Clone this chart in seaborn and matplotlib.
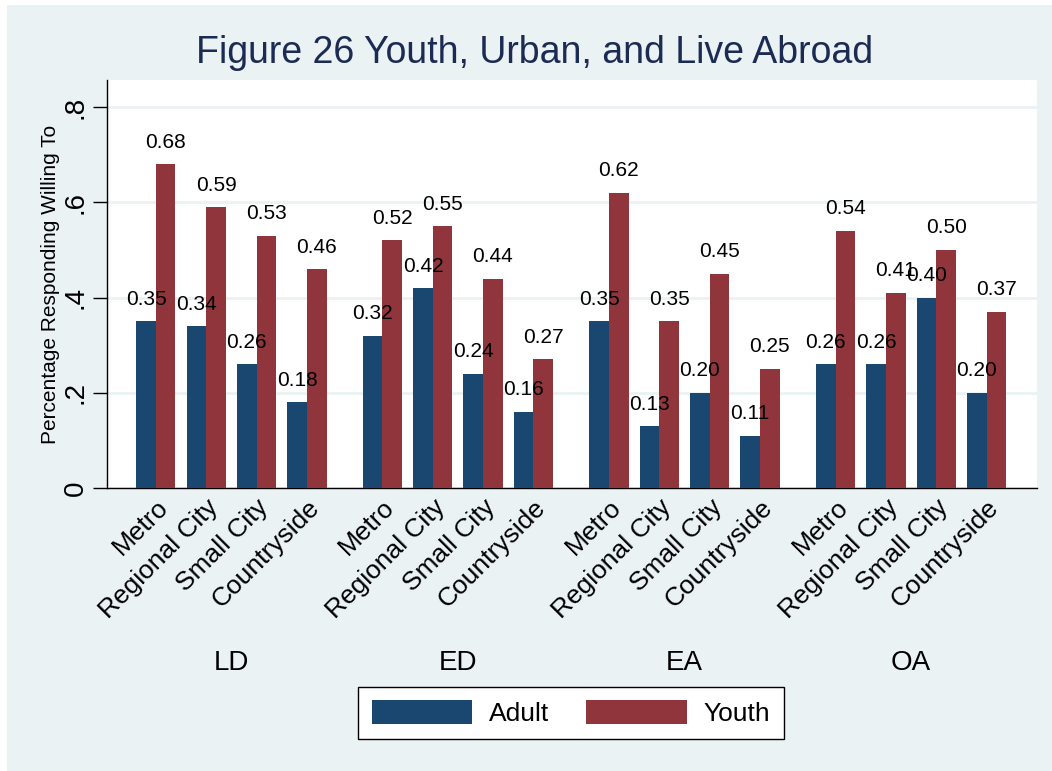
import numpy as np
import pandas as pd
import matplotlib
matplotlib.use("Agg")
import matplotlib.pyplot as plt
import matplotlib.transforms as mtransforms
from matplotlib.patches import Patch, Rectangle
import seaborn as sns

# Data
regions = ["LD", "ED", "EA", "OA"]
places = ["Metro", "Regional City", "Small City", "Countryside"]
adult = [0.35, 0.34, 0.26, 0.18,
         0.32, 0.42, 0.24, 0.16,
         0.35, 0.13, 0.20, 0.11,
         0.26, 0.26, 0.40, 0.20]
youth = [0.68, 0.59, 0.53, 0.46,
         0.52, 0.55, 0.44, 0.27,
         0.62, 0.35, 0.45, 0.25,
         0.54, 0.41, 0.50, 0.37]
series = ["Adult", "Youth"]
y_ticks = [0, 0.2, 0.4, 0.6, 0.8]
y_tick_labels = ["0", ".2", ".4", ".6", ".8"]

bg = "#EAF2F3"
colors = {"Adult": "#1A476F", "Youth": "#90353B"}

# long table, with a gap of half a slot between region groups
rows = []
for gi, reg in enumerate(regions):
    for pi, pl in enumerate(places):
        k = gi * len(places) + pi
        pos = gi * (len(places) + 0.5) + pi
        rows.append(dict(pos=pos, region=reg, place=pl, series="Adult", value=adult[k]))
        rows.append(dict(pos=pos, region=reg, place=pl, series="Youth", value=youth[k]))
df = pd.DataFrame(rows)

sns.set_style("white")
plt.rcParams["font.family"] = ["Liberation Sans", "DejaVu Sans"]
plt.rcParams["text.color"] = "black"
plt.rcParams["axes.labelcolor"] = "black"
plt.rcParams["xtick.color"] = "black"
plt.rcParams["ytick.color"] = "black"

fig = plt.figure(figsize=(10.52, 7.71), dpi=100, facecolor="white")
# light background panel (thin white strip left and top as in the original)
fig.patches.append(Rectangle((7 / 1052, 0), 1, 1 - 5 / 771, transform=fig.transFigure,
                             facecolor=bg, edgecolor="none", zorder=-10))

ax = fig.add_axes([107 / 1052, 1 - 488 / 771, (1037 - 107) / 1052, (488 - 80) / 771])
ax.set_facecolor("white")

sns.barplot(data=df, x="pos", y="value", hue="series", hue_order=series,
            palette=colors, native_scale=True, width=0.78, saturation=1,
            edgecolor="none", linewidth=0, legend=False, ax=ax, zorder=3)

for c in ax.containers:
    ax.bar_label(c, fmt="%.2f", padding=9, fontsize=15, color="black", zorder=5)

ax.set_xlim(-0.97, 17.5)
ax.set_ylim(0, 0.857)

ax.set_yticks(y_ticks)
ax.set_yticklabels(y_tick_labels, rotation=90, va="center", fontsize=20)
ax.tick_params(axis="y", direction="out", length=10, width=1, pad=3, left=True)
ax.yaxis.grid(True, color=bg, linewidth=2)
ax.set_axisbelow(True)

pos_ticks = df.drop_duplicates("pos")
ax.set_xticks(pos_ticks["pos"])
ax.set_xticklabels(pos_ticks["place"], rotation=45, ha="right",
                   rotation_mode="anchor", fontsize=19)
ax.tick_params(axis="x", length=0, pad=5)

ax.set_xlabel("")
ax.set_ylabel("Percentage Responding Willing To", fontsize=15, labelpad=2)

for s in ["top", "right"]:
    ax.spines[s].set_visible(False)
for s in ["left", "bottom"]:
    ax.spines[s].set_color("black")
    ax.spines[s].set_linewidth(1)

# region labels under the rotated tick labels
trans = mtransforms.blended_transform_factory(ax.transData, fig.transFigure)
for reg in regions:
    center = df.loc[df.region == reg, "pos"].mean()
    ax.text(center, 1 - 663 / 771, reg, transform=trans, ha="center", va="center",
            fontsize=20)

fig.text(535 / 1052, 1 - 53 / 771, "Figure 26 Youth, Urban, and Live Abroad",
         ha="center", va="center", fontsize=27, color="#1c2b53")

handles = [Patch(facecolor=colors[s], edgecolor="none", label=s) for s in series]
leg = fig.legend(handles=handles, loc="center", bbox_to_anchor=(571 / 1052, 1 - 713 / 771),
                 ncol=2, fontsize=19, handlelength=3.8, handleheight=1.0,
                 columnspacing=1.4, handletextpad=0.65, borderpad=0.5,
                 fancybox=False, framealpha=1, edgecolor="black")
leg.get_frame().set_linewidth(1)

fig.savefig("out.png", dpi=100, facecolor=fig.get_facecolor())
